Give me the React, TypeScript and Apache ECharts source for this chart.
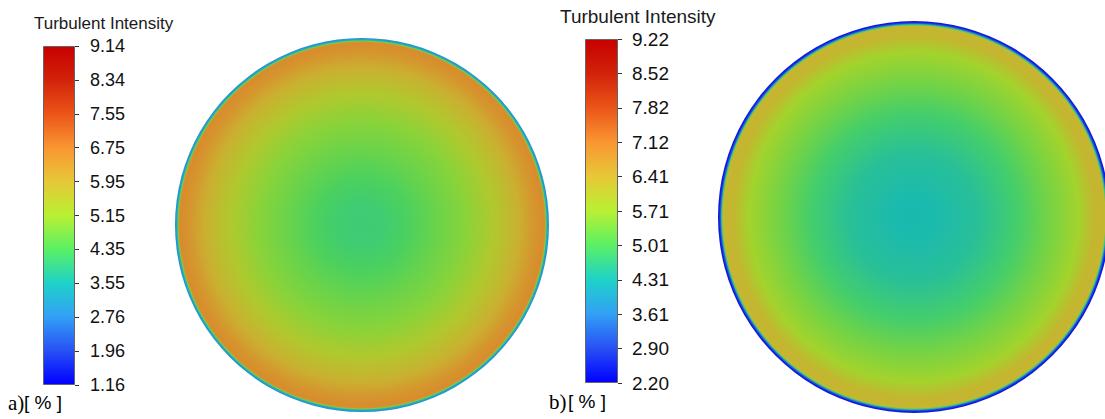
import React, { useEffect, useRef } from "react";
import * as echarts from "echarts";

// Colour map of the legend, bottom (min) to top (max)
const palette = [
  "#0000ff", "#2850f5", "#32a0f5", "#1ed2c8", "#5af064", "#b9f032",
  "#e6c837", "#fa9632", "#eb5519", "#d2230a", "#c80000",
];

// Legend tick labels, top to bottom
const ticksA = ["9.14", "8.34", "7.55", "6.75", "5.95", "5.15", "4.35", "3.55", "2.76", "1.96", "1.16"];
const ticksB = ["9.22", "8.52", "7.82", "7.12", "6.41", "5.71", "5.01", "4.31", "3.61", "2.90", "2.20"];
const rangeA = [1.16, 9.14];
const rangeB = [2.2, 9.22];

// Radial profile of turbulent intensity (r / R, value %)
const radiusA = [0, 0.12, 0.25, 0.4, 0.55, 0.7, 0.84, 0.92, 0.97, 0.978, 0.984, 0.99, 1];
const valuesA = [4.1, 4.13, 4.3, 4.6, 4.9, 5.39, 5.95, 6.43, 6.6, 6.5, 4.6, 3.3, 2.7];
const radiusB = [0, 0.1, 0.33, 0.53, 0.68, 0.84, 0.92, 0.955, 0.975, 0.982, 0.988, 0.994, 1];
const valuesB = [4.3, 4.32, 4.5, 4.87, 5.3, 5.71, 6.27, 6.35, 6.2, 4.5, 3.0, 2.5, 2.4];

const pipeRadius = [1];

const SHADE = 0.88;
const FONT = "Liberation Sans, Arial, sans-serif";
const SERIF = `"Liberation Serif", "Times New Roman", serif`;

function parseHex(h: string) {
  const n = parseInt(h.slice(1), 16);
  return [(n >> 16) & 255, (n >> 8) & 255, n & 255];
}

function colorAt(t: number): number[] {
  const c = Math.max(0, Math.min(1, t));
  const lib: any = (echarts as any).color;
  if (lib && lib.lerp && lib.parse) {
    const s = lib.lerp(c, palette);
    const arr = lib.parse(s);
    if (arr) return [arr[0], arr[1], arr[2]];
  }
  const p = c * (palette.length - 1);
  const i = Math.min(palette.length - 2, Math.floor(p));
  const f = p - i;
  const a = parseHex(palette[i]);
  const b = parseHex(palette[i + 1]);
  return [0, 1, 2].map((k) => a[k] + (b[k] - a[k]) * f);
}

function shaded(t: number) {
  const c = colorAt(t).map((v) => Math.round(v * SHADE));
  return `rgb(${c[0]},${c[1]},${c[2]})`;
}

function discGradient(cx: number, cy: number, r: number, radii: number[], vals: number[], range: number[]) {
  return {
    type: "radial",
    x: cx,
    y: cy,
    r: r,
    global: true,
    colorStops: radii.map((rr, i) => ({
      offset: rr,
      color: shaded((vals[i] - range[0]) / (range[1] - range[0])),
    })),
  };
}

function barGradient() {
  return {
    type: "linear",
    x: 0,
    y: 1,
    x2: 0,
    y2: 0,
    colorStops: palette.map((c, i) => ({ offset: i / (palette.length - 1), color: c })),
  };
}

export default function App() {
  const ref = useRef<HTMLDivElement>(null);

  useEffect(() => {
    if (!ref.current) return;
    const chart = echarts.init(ref.current, undefined, { renderer: "svg" });

    const cA = [362, 225];
    const rA = 187;
    const cB = [914, 217];
    const rB = 196;

    const yAxisCommon = (ticks: string[], margin: number, size: number) => ({
      type: "value",
      position: "right",
      min: 0,
      max: 10,
      interval: 1,
      axisLine: { show: false },
      splitLine: { show: false },
      axisTick: { show: true, length: 4, lineStyle: { color: "#333", width: 1 } },
      axisLabel: {
        margin,
        color: "#111",
        fontSize: size,
        fontFamily: FONT,
        formatter: (v: number) => ticks[10 - Math.round(v)],
      },
    });

    const pie = (c: number[], r: number, radii: number[], vals: number[], range: number[]) => ({
      type: "pie",
      center: c,
      radius: [0, r],
      silent: true,
      label: { show: false },
      labelLine: { show: false },
      emphasis: { disabled: true },
      data: pipeRadius.map((v) => ({
        value: v,
        itemStyle: { color: discGradient(c[0], c[1], r, radii, vals, range) },
      })),
    });

    const option: any = {
      animation: false,
      backgroundColor: "#ffffff",
      grid: [
        { left: 43, top: 46, width: 32, height: 339 },
        { left: 585, top: 39, width: 33, height: 344 },
      ],
      xAxis: [
        { type: "category", gridIndex: 0, data: ["a"], show: false },
        { type: "category", gridIndex: 1, data: ["b"], show: false },
      ],
      yAxis: [
        { gridIndex: 0, ...yAxisCommon(ticksA, 15, 18) },
        { gridIndex: 1, ...yAxisCommon(ticksB, 14, 19) },
      ],
      series: [
        {
          type: "bar",
          xAxisIndex: 0,
          yAxisIndex: 0,
          barWidth: "100%",
          silent: true,
          data: [10],
          itemStyle: { color: barGradient(), borderColor: "#666", borderWidth: 1 },
        },
        {
          type: "bar",
          xAxisIndex: 1,
          yAxisIndex: 1,
          barWidth: "100%",
          silent: true,
          data: [10],
          itemStyle: { color: barGradient(), borderColor: "#666", borderWidth: 1 },
        },
        pie(cA, rA, radiusA, valuesA, rangeA),
        pie(cB, rB, radiusB, valuesB, rangeB),
      ],
      graphic: [
        {
          type: "text",
          left: 34,
          top: 15,
          style: { text: "Turbulent Intensity", font: `17px ${FONT}`, fill: "#1a1a1a" },
        },
        {
          type: "text",
          left: 560,
          top: 7,
          style: { text: "Turbulent Intensity", font: `19px ${FONT}`, fill: "#1a1a1a" },
        },
        {
          type: "text",
          left: 8,
          top: 392,
          style: { text: "a)", font: `21px ${SERIF}`, fill: "#000" },
        },
        {
          type: "text",
          left: 24,
          top: 393,
          style: { text: "[ % ]", font: `19px ${FONT}`, fill: "#000" },
        },
        {
          type: "text",
          left: 549,
          top: 391,
          style: { text: "b)", font: `21px ${SERIF}`, fill: "#000" },
        },
        {
          type: "text",
          left: 568,
          top: 392,
          style: { text: "[ % ]", font: `19px ${FONT}`, fill: "#000" },
        },
      ],
    };

    chart.setOption(option);
    return () => chart.dispose();
  }, []);

  return (
    <div
      ref={ref}
      style={{ position: "fixed", left: 0, top: 0, width: 1105, height: 419 }}
    />
  );
}
